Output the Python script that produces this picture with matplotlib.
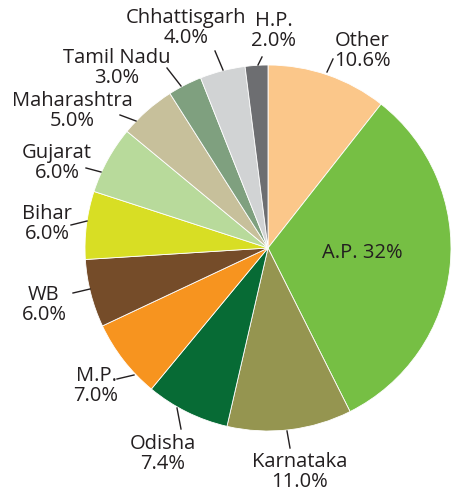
import matplotlib.pyplot as plt

plt.rcParams['font.family'] = ['Open Sans', 'DejaVu Sans']

# share of production by state, clockwise from 12 o'clock
states = ['Other', 'A.P.', 'Karnataka', 'Odisha', 'M.P.', 'WB', 'Bihar',
          'Gujarat', 'Maharashtra', 'Tamil Nadu', 'Chhattisgarh', 'H.P.']
shares = [10.6, 32, 11.0, 7.4, 7.0, 6.0, 6.0, 6.0, 5.0, 3.0, 4.0, 2.0]
pct_text = ['10.6%', '32%', '11.0%', '7.4%', '7.0%', '6.0%', '6.0%',
            '6.0%', '5.0%', '3.0%', '4.0%', '2.0%']
colors = ['#fbc78a', '#76bf44', '#959550', '#076b35', '#f7941f', '#754c29',
          '#d8de24', '#b8da9b', '#c7c09b', '#7fa07f', '#d1d3d4', '#6d6e71']

W, H = 453, 495
fig = plt.figure(figsize=(W / 100, H / 100), dpi=100)
ax = fig.add_axes([0, 0, 1, 1])

cx, cy, r = 268, H - 248, 183
ax.pie(shares, colors=colors, startangle=90, counterclock=False,
       center=(cx, cy), radius=r, frame=True,
       wedgeprops=dict(linewidth=0.6, edgecolor='white'))
ax.set_xlim(0, W)
ax.set_ylim(0, H)
ax.set_aspect('equal')
ax.axis('off')

# label centre and leader line (x0, y0, x1, y1), in pixels from top-left
label_pos = {
    'Other': (362, 51, (327, 72, 333, 59)),
    'Karnataka': (300, 472, (287, 431, 290, 448)),
    'Odisha': (163, 454, (177, 408, 181, 429)),
    'M.P.': (96, 386, (134, 375, 117, 379)),
    'WB': (44, 305, (90, 289, 73, 293)),
    'Bihar': (47, 224, (87, 221, 71, 225)),
    'Gujarat': (57, 163, (101, 172, 86, 168)),
    'Maharashtra': (72, 111, (136, 121, 120, 115)),
    'Tamil Nadu': (117, 68, (181, 86, 167, 68)),
    'Chhattisgarh': (186, 28, (223, 70, 215, 51)),
    'H.P.': (274, 31, (258, 65, 262, 57)),
}

fs = 14.5
for name, pct in zip(states, pct_text):
    if name == 'A.P.':
        ax.text(362, H - 253, name + ' ' + pct, ha='center', va='center',
                fontsize=fs, color='#231f20')
        continue
    x, y, (x0, y0, x1, y1) = label_pos[name]
    ax.text(x, H - y, name + '\n' + pct, ha='center', va='center',
            fontsize=fs, color='#231f20', linespacing=1.02)
    ax.plot([x0, x1], [H - y0, H - y1], color='#231f20', lw=1)

fig.savefig('out.png', dpi=100)
